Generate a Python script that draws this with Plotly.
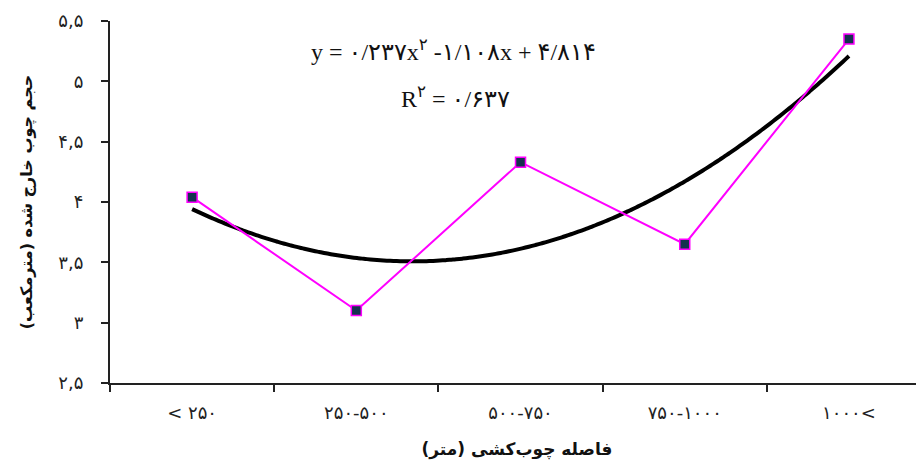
import numpy as np
import plotly.graph_objects as go

categories = ["< ۲۵۰", "۲۵۰-۵۰۰", "۵۰۰-۷۵۰", "۷۵۰-۱۰۰۰", "۱۰۰۰<"]
volumes = [4.04, 3.10, 4.33, 3.65, 5.35]
y_tick_vals = [2.5, 3, 3.5, 4, 4.5, 5, 5.5]
y_tick_text = ["۲,۵", "۳", "۳,۵", "۴", "۴,۵", "۵", "۵,۵"]
x_title = "فاصله چوب‌کشی (متر)"
y_title = "حجم چوب خارج شده (مترمکعب)"
eq_text = "y = ۰/۲۳۷x<sup>۲</sup> -۱/۱۰۸x + ۴/۸۱۴"
r2_text = "R<sup>۲</sup> = ۰/۶۳۷"

xpos = np.arange(1, len(categories) + 1)
coefs = np.polyfit(xpos, volumes, 2)
xs = np.linspace(1, len(categories), 200)
ys = np.polyval(coefs, xs)

fig = go.Figure()
fig.add_trace(go.Scatter(x=xs, y=ys, mode="lines",
                         line=dict(color="#000000", width=4, shape="spline"),
                         hoverinfo="skip", showlegend=False))
fig.add_trace(go.Scatter(x=xpos, y=volumes, mode="lines+markers",
                         line=dict(color="#ff00ff", width=2),
                         marker=dict(symbol="square", size=10, color="#16324f",
                                     line=dict(color="#ff00ff", width=1.5)),
                         showlegend=False))

fig.update_layout(
    width=924, height=468,
    margin=dict(l=102, r=8, t=13, b=93, autoexpand=False),
    plot_bgcolor="white", paper_bgcolor="white",
    font=dict(family="DejaVu Sans", color="#222"),
    xaxis=dict(range=[0.5, 5.457], tickvals=list(xpos), ticktext=categories,
               ticks="", showgrid=False, zeroline=False, automargin=False,
               showline=True, linecolor="#222", linewidth=2,
               tickfont=dict(size=18, family="DejaVu Sans", color="#222"),
               ticklabelstandoff=12,
               minor=dict(tickvals=[0.5, 1.5, 2.5, 3.5, 4.5], ticks="outside",
                          ticklen=7, tickwidth=2, tickcolor="#222", showgrid=False),
               title=dict(text="<b>" + x_title + "</b>",
                          font=dict(size=17, family="DejaVu Sans", color="#111"),
                          standoff=22)),
    yaxis=dict(range=[2.5, 5.5], tickvals=y_tick_vals, ticktext=y_tick_text,
               ticks="outside", ticklen=7, tickwidth=2, tickcolor="#222",
               showgrid=False, zeroline=False, automargin=False,
               showline=True, linecolor="#222", linewidth=2,
               tickfont=dict(size=18, family="DejaVu Sans", color="#222"),
               ticklabelstandoff=14,
               title=dict(text="<b>" + y_title + "</b>",
                          font=dict(size=16, family="DejaVu Sans", color="#111"),
                          standoff=22)),
    annotations=[
        dict(text=eq_text, xref="paper", yref="paper", x=(453 - 110) / 814, y=1 - (50 - 21) / 362,
             xanchor="center", yanchor="middle", showarrow=False,
             font=dict(size=24, family="Liberation Serif, DejaVu Sans", color="#111")),
        dict(text=r2_text, xref="paper", yref="paper", x=(455 - 110) / 814, y=1 - (97 - 21) / 362,
             xanchor="center", yanchor="middle", showarrow=False,
             font=dict(size=24, family="Liberation Serif, DejaVu Sans", color="#111")),
    ],
)

fig.write_html("out.html")
